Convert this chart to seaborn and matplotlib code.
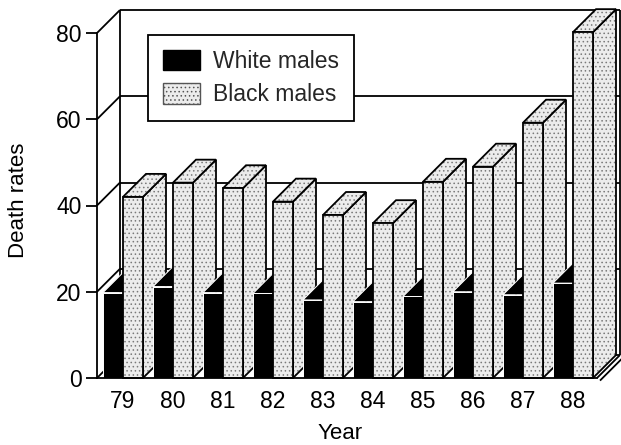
import matplotlib
matplotlib.use('Agg')
import matplotlib.pyplot as plt
import seaborn as sns
import pandas as pd
from matplotlib.patches import Polygon, Patch

# ---- data ----
years = ['79', '80', '81', '82', '83', '84', '85', '86', '87', '88']
white_males = [19.8, 21.2, 19.8, 19.6, 18.1, 17.7, 18.9, 20.0, 19.3, 22.0]
black_males = [42.0, 45.3, 44.0, 40.9, 37.8, 35.9, 45.5, 49.0, 59.2, 80.2]
series = ['White males', 'Black males']
y_ticks = [0, 20, 40, 60, 80]

sns.set_theme(style='white')
plt.rcParams['font.family'] = ['Liberation Sans', 'DejaVu Sans']
plt.rcParams['hatch.linewidth'] = 0.6

df = pd.DataFrame({
    'year': years * 2,
    'rate': white_males + black_males,
    'group': [series[0]] * len(years) + [series[1]] * len(years),
})

W, H = 621, 445
fig = plt.figure(figsize=(W / 100, H / 100), dpi=100)
ax = fig.add_axes([97 / W, (H - 378) / H, 500 / W, 345 / H])

LIGHT = '#ececec'
sns.barplot(data=df, x='year', y='rate', hue='group', palette=['black', LIGHT],
            width=0.8, saturation=1, legend=False, errorbar=None, ax=ax)

XL = (-0.52, 9.48)
ax.set_xlim(*XL)
ax.set_ylim(0, 80)

DX, DY = 0.46, 5.33  # 3-D depth offset (data units)
LW = 1.3

# back wall and grid
bx0, bx1 = XL[0] + DX, XL[1] + DX
kw = dict(color='black', lw=LW, clip_on=False, zorder=1, solid_capstyle='butt')
ax.plot([bx0, bx0], [DY, 80 + DY], **kw)
ax.plot([bx1, bx1], [DY, 80 + DY], **kw)
for v in y_ticks:
    ax.plot([bx0, bx1], [v + DY, v + DY], **kw)
    ax.plot([XL[0], bx0], [v, v + DY], **kw)
# floor edge at right
ax.plot([XL[1], bx1], [0, DY], **kw)
ax.plot([XL[1] + 0.06, bx1 + 0.06], [-0.6, DY - 0.6], **kw)


def add_face(xy, dark, z):
    if dark:
        ax.add_patch(Polygon(xy, closed=True, facecolor='black', edgecolor='white',
                             lw=0.7, zorder=z, clip_on=False))
    else:
        ax.add_patch(Polygon(xy, closed=True, facecolor=LIGHT, edgecolor='#7a7a7a',
                             hatch='....', lw=0, zorder=z, clip_on=False))
        ax.add_patch(Polygon(xy, closed=True, fill=False, edgecolor='black',
                             lw=LW, zorder=z + 0.001, clip_on=False))


for ci, container in enumerate(ax.containers):
    dark = (ci == 0)
    for i, bar in enumerate(container):
        x, w, h = bar.get_x(), bar.get_width(), bar.get_height()
        z = 2 + i * 0.1 + ci * 0.05
        side = [(x + w, 0), (x + w + DX, DY), (x + w + DX, h + DY), (x + w, h)]
        top = [(x, h), (x + DX, h + DY), (x + w + DX, h + DY), (x + w, h)]
        front = [(x, 0), (x, h), (x + w, h), (x + w, 0)]
        add_face(side, dark, z)
        add_face(top, dark, z + 0.01)
        bar.set_visible(False)
        add_face(front, dark, z + 0.02)

# axes styling
for s in ['top', 'right']:
    ax.spines[s].set_visible(False)
for s in ['left', 'bottom']:
    ax.spines[s].set_color('black')
    ax.spines[s].set_linewidth(LW)
    ax.spines[s].set_zorder(5)
ax.set_yticks(y_ticks)
ax.set_yticklabels([str(v) for v in y_ticks])
ax.tick_params(axis='y', direction='out', length=8, width=LW, color='black',
               pad=3, labelsize=16.5, labelcolor='black', left=True)
ax.tick_params(axis='x', length=0, pad=9, labelsize=16.5, labelcolor='black')
ax.set_xlabel('Year', fontsize=16, color='black', va='top')
ax.xaxis.set_label_coords(0.486, -0.13)
ax.set_ylabel('Death rates', fontsize=16, color='black')
ax.yaxis.set_label_coords(-0.135, 0.515)
ax.grid(False)

handles = [Patch(facecolor='black', edgecolor='black'),
           Patch(facecolor=LIGHT, edgecolor='#555555', hatch='....', lw=1)]
leg = ax.legend(handles, series, loc='upper left', bbox_to_anchor=(0.102, 0.994),
                frameon=True, fancybox=False, edgecolor='black', framealpha=1,
                fontsize=16.5, handlelength=1.6, handleheight=1.0, borderpad=0.65,
                labelspacing=0.45, handletextpad=0.6, borderaxespad=0)
leg.get_frame().set_linewidth(LW)
leg.set_zorder(10)

fig.savefig('out.png', dpi=100, facecolor='white')
